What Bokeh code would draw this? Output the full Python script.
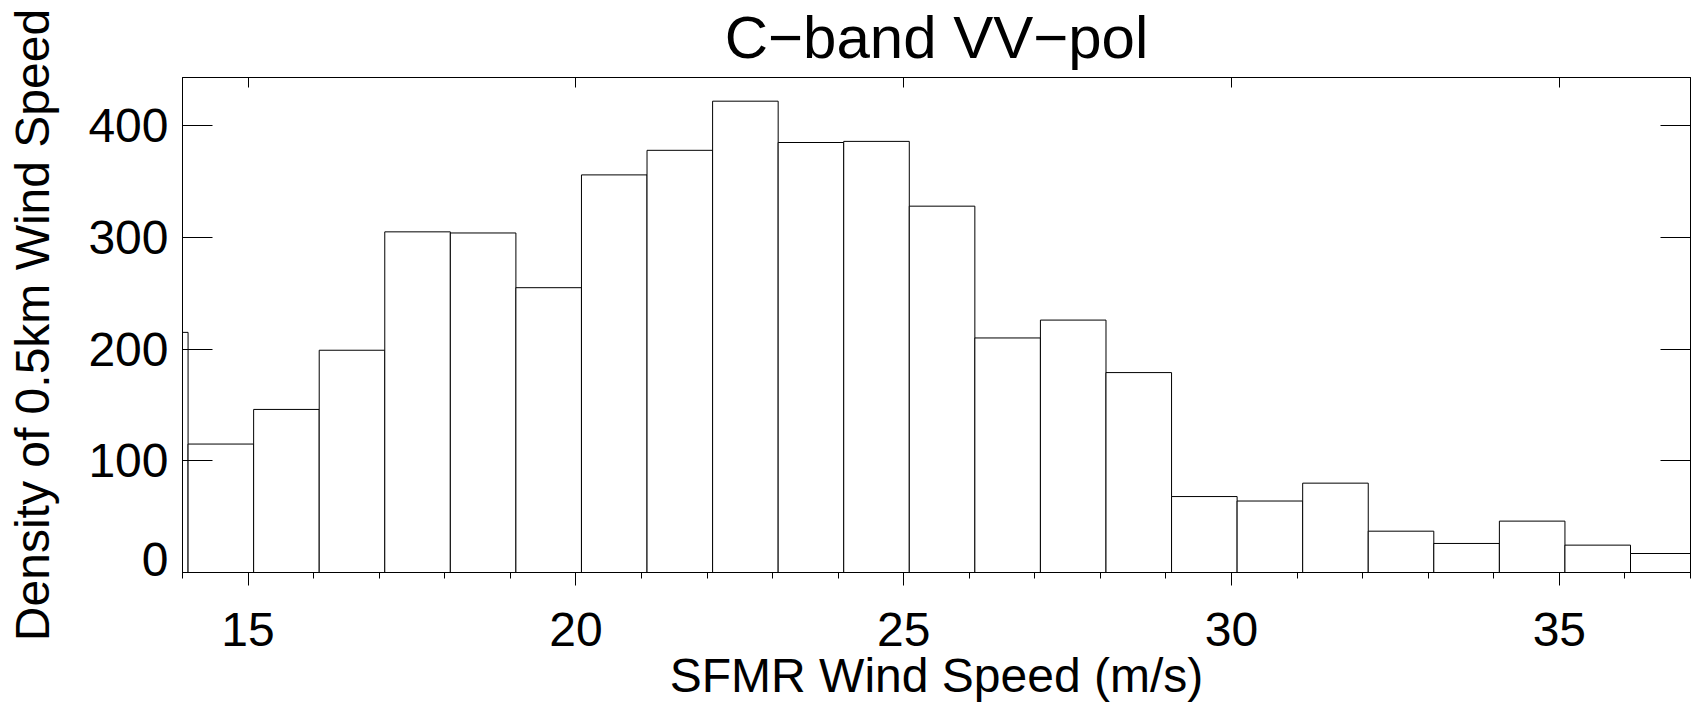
from bokeh.plotting import figure
from bokeh.models import LinearAxis, Range1d, FixedTicker, CustomLabelingPolicy
from bokeh.embed import file_html
from bokeh.resources import INLINE

# ---- data ----
title_text = "C\u2212band VV\u2212pol"
x_label = "SFMR Wind Speed (m/s)"
y_label = "Density of 0.5km Wind Speed"

bin_left = [13.085, 14.085, 15.085, 16.085, 17.085, 18.085, 19.085, 20.085,
            21.085, 22.085, 23.085, 24.085, 25.085, 26.085, 27.085, 28.085,
            29.085, 30.085, 31.085, 32.085, 33.085, 34.085, 35.085, 36.085]
bin_width = 1.0
counts = [215, 115, 146, 199, 305, 304, 255, 356,
          378, 422, 385, 386, 328, 210, 226, 179,
          68, 64, 80, 37, 26, 46, 24.5, 17]

x_ticks = [15, 20, 25, 30, 35]
x_minor = [14, 15, 16, 17, 18, 19, 20, 21, 22, 23, 24, 25,
           26, 27, 28, 29, 30, 31, 32, 33, 34, 35, 36, 37]
y_ticks = [0, 100, 200, 300, 400]
x_start, x_end = 14, 37
y_start, y_end = 0, 443.2

FONT = "Liberation Sans"

bin_right = [b + bin_width for b in bin_left]

p = figure(frame_width=1508, frame_height=495, output_backend="svg",
           toolbar_location=None,
           x_range=Range1d(x_start, x_end), y_range=Range1d(y_start, y_end),
           min_border_left=182, min_border_top=76, min_border_right=3,
           min_border_bottom=10)
p.xgrid.visible = False
p.ygrid.visible = False
p.outline_line_color = "black"
p.outline_line_width = 1
p.background_fill_color = "white"
p.border_fill_color = "white"

p.quad(left=bin_left, right=bin_right, top=counts, bottom=0,
       fill_color="white", line_color="black", line_width=1)

# bottom axis
xa = p.below[0]
xa.ticker = FixedTicker(ticks=x_ticks, minor_ticks=x_minor)
xa.axis_label = x_label
xa.axis_label_text_font = FONT
xa.axis_label_text_font_size = "48px"
xa.axis_label_text_font_style = "normal"
xa.axis_label_text_color = "black"
xa.axis_label_standoff = 0
xa.major_label_text_font = FONT
xa.major_label_text_font_size = "48px"
xa.major_label_text_color = "black"
xa.major_label_standoff = 27
xa.major_tick_in = 0
xa.major_tick_out = 13
xa.minor_tick_in = 0
xa.minor_tick_out = 6
xa.axis_line_color = "black"
xa.major_tick_line_color = "black"
xa.minor_tick_line_color = "black"

# left axis
ya = p.left[0]
ya.ticker = FixedTicker(ticks=y_ticks)
ya.axis_label = y_label
ya.axis_label_text_font = FONT
ya.axis_label_text_font_size = "48px"
ya.axis_label_text_font_style = "normal"
ya.axis_label_text_color = "black"
ya.axis_label_standoff = 26
ya.major_label_text_font = FONT
ya.major_label_text_font_size = "48px"
ya.major_label_text_color = "black"
ya.major_label_standoff = 14
ya.major_label_orientation = "horizontal"
ya.major_label_text_line_height = 0.5
ya.major_label_overrides = {0: "0\n"}   # the zero label sits just above the x axis
ya.major_tick_in = 30
ya.major_tick_out = 0
ya.minor_tick_line_color = None
ya.axis_line_color = "black"
ya.major_tick_line_color = "black"

hide_labels = CustomLabelingPolicy(code="""
const n = indices.size
for (let i = 0; i < n; i++) { indices.unset(i) }
return indices
""")

# top axis (ticks only, carries the chart title as its label)
ta = LinearAxis(ticker=FixedTicker(ticks=x_ticks), major_tick_in=10, major_tick_out=0,
                minor_tick_line_color=None, major_label_text_font_size="0px",
                major_label_standoff=0, axis_line_color="black",
                major_tick_line_color="black", major_label_policy=hide_labels,
                axis_label=title_text, axis_label_text_font=FONT,
                axis_label_text_font_size="60px", axis_label_text_font_style="normal",
                axis_label_text_color="black", axis_label_standoff=7)
p.add_layout(ta, "above")

# right axis (ticks only)
ra = LinearAxis(ticker=FixedTicker(ticks=y_ticks), major_tick_in=30, major_tick_out=0,
                minor_tick_line_color=None, major_label_text_font_size="0px",
                major_label_standoff=0, axis_line_color="black",
                major_tick_line_color="black", major_label_policy=hide_labels)
p.add_layout(ra, "right")

open("out.html", "w").write(file_html(p, INLINE))
